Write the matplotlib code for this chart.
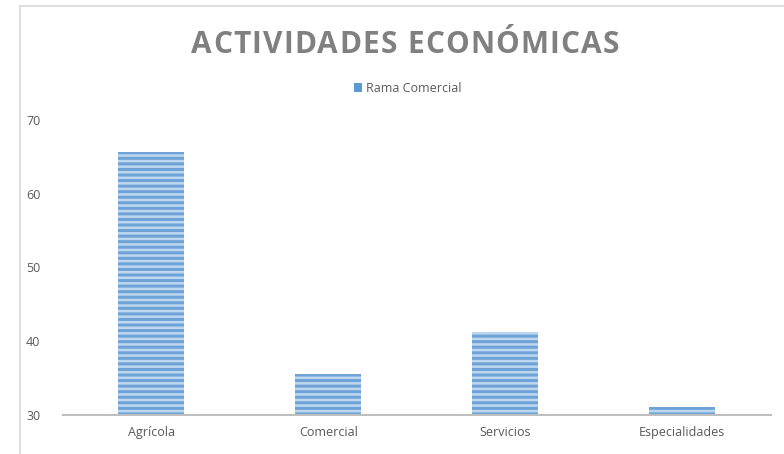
import matplotlib
matplotlib.use("Agg")
import matplotlib.pyplot as plt
from matplotlib.lines import Line2D
from matplotlib.patches import Patch

categories = ["Agrícola", "Comercial", "Servicios", "Especialidades"]
values = [65.7, 35.5, 41.2, 31.1]
series_name = "Rama Comercial"
yticks = [30, 40, 50, 60, 70]
title = "ACTIVIDADES ECONÓMICAS"

plt.rcParams['font.family'] = ['Open Sans', 'DejaVu Sans']
plt.rcParams['hatch.linewidth'] = 2.2

fig = plt.figure(figsize=(7.84, 4.54), dpi=100)
ax = fig.add_axes([0.080, 0.086, 0.903, 0.650])

x = range(len(categories))
ax.bar(x, [v - 30 for v in values], bottom=30, width=0.375,
       facecolor='#BDD7EE', edgecolor='#6FA3D8', hatch='---', linewidth=0)

ax.set_xlim(-0.5, len(categories) - 0.5)
ax.set_ylim(30, 70)
ax.set_yticks(yticks)
ax.set_xticks(list(x))
ax.set_xticklabels(categories)
ax.tick_params(axis='both', length=0, labelsize=9, colors='#595959')
ax.tick_params(axis='y', pad=16)
ax.tick_params(axis='x', pad=8)
for s in ['top', 'right', 'left']:
    ax.spines[s].set_visible(False)
ax.spines['bottom'].set_color('#BFBFBF')
ax.spines['bottom'].set_linewidth(1.5)

# letter-spaced title, placed character by character
renderer = fig.canvas.get_renderer()
target_left, target_right = 191, 619  # pixels
title_y = 1 - 45 / 454
chars = []
widths = []
for ch in title:
    t = fig.text(0, title_y, ch, ha='left', va='center', fontsize=21.5,
                 fontweight='bold', color='#808080')
    chars.append(t)
    widths.append(t.get_window_extent(renderer).width if ch != ' ' else None)
space_w = 8.0
widths = [w if w is not None else space_w for w in widths]
total = sum(widths)
extra = (target_right - target_left - total) / (len(title) - 1)
xpos = target_left
for t, w in zip(chars, widths):
    t.set_x(xpos / 784)
    xpos += w + extra

handle = Patch(facecolor='#5B9BD5', edgecolor='none')
fig.legend([handle], [series_name], loc='center', bbox_to_anchor=(0.52, 0.806),
           frameon=False, fontsize=9, handlelength=0.7, handleheight=0.7,
           handletextpad=0.3, labelcolor='#595959')

# chart frame border
fig.add_artist(Line2D([20/784, 20/784], [0, 1 - 6/454], transform=fig.transFigure,
                      color='#D9D9D9', linewidth=1.2))
fig.add_artist(Line2D([20/784, 1], [1 - 6/454, 1 - 6/454], transform=fig.transFigure,
                      color='#D9D9D9', linewidth=1.2))

fig.savefig("out.png", dpi=100)
